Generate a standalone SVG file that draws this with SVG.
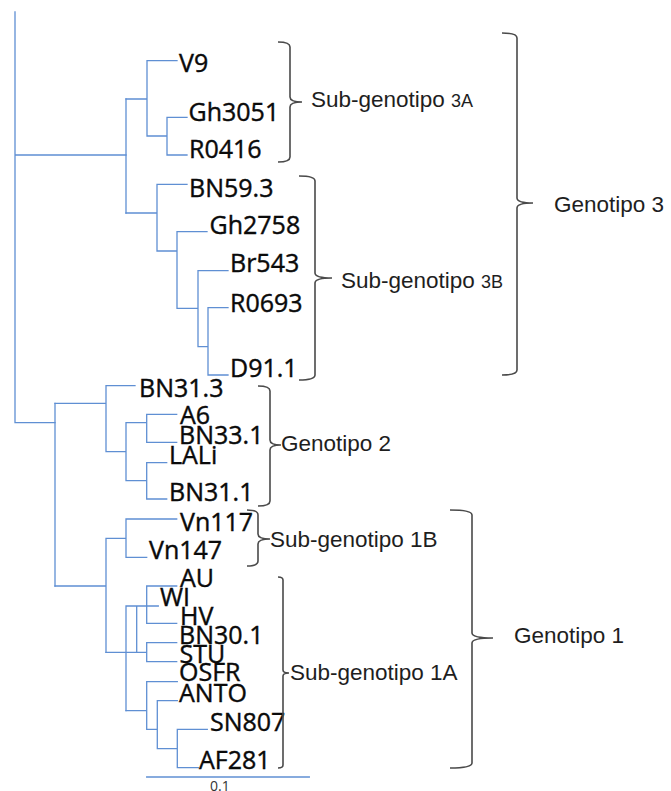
<svg xmlns="http://www.w3.org/2000/svg" width="671" height="791" viewBox="0 0 671 791">
  <style>
    .br { fill: none; stroke: #5f8fd3; stroke-width: 1.3; stroke-linecap: square; }
    .brace { fill: none; stroke: #4a4a4a; stroke-width: 1.6; }
    .taxon { font-family: "Open Sans", "Noto Sans", sans-serif; font-size: 25px; font-weight: 500; fill: #0a0a0a; stroke: #0a0a0a; stroke-width: 0.4; }
    .group { font-family: "Liberation Sans", Arial, sans-serif; font-size: 22.5px; fill: #1e1e1e; }
    .small { font-size: 18px; }
    .scale { font-family: "Open Sans", sans-serif; font-size: 14px; fill: #333; }
  </style>

  <!-- tree branches -->
  <g id="connectors" class="br">
    <!-- root -->
    <path d="M15,12 V422.7 M15,155 H126 M15,422.7 H55"/>
    <!-- genotype 3 -->
    <path d="M126,99 V213"/>
    <path d="M126,99 H147 M177,60.7 H147 V136 H167 M187,117.3 H167 V155 H187"/>
    <path d="M126,213 H157 M187,184.3 H157 V251 H177 M207,231.7 H177 V308.3 H198 M228,270.7 H198 V346.7 H208 M228,307.7 H208 V375 H228"/>
    <!-- genotypes 1 and 2 -->
    <path d="M55,403.3 V586"/>
    <path d="M55,403.3 H106 M135,385.7 H106 V451.7 H126 M126,422.7 V480.7 M126,422.7 H146.7 M176.7,414.3 H146.7 V442.3 H176.7 M126,480.7 H146.7 M166.7,462.7 H146.7 V499 H166.7"/>
    <path d="M55,586 H106 M106,538.3 V652.3 M106,538.3 H126 M176.7,519 H126 V557.3 H146.7"/>
    <path d="M106,652.3 H146.7 M126,606 V710.7 M126,606 H158.3 M136.7,606 V652.3 M176.7,586 H146.7 V623.3 H176.7 M176.7,642.7 H146.7 V661.7 H176.7"/>
    <path d="M126,710.7 H146.7 M177.3,681.7 H146.7 V729.3 H157.3 M177.3,700.7 H157.3 V748.7 H177.3 M207.3,729.3 H177.3 V767.7 H198.3"/>
    <!-- scale bar -->
    <path d="M146.7,777 H309.3"/>
  </g>
  <text class="scale" x="210" y="791">0.1</text>

  <!-- taxa -->
  <g id="V9"><text class="taxon" x="179" y="72">V9</text></g>
  <g id="Gh3051"><text class="taxon" x="188.5" y="121">Gh3051</text></g>
  <g id="R0416"><text class="taxon" x="189" y="158">R0416</text></g>
  <g id="BN59_3"><text class="taxon" x="189" y="197">BN59.3</text></g>
  <g id="Gh2758"><text class="taxon" x="209.5" y="234">Gh2758</text></g>
  <g id="Br543"><text class="taxon" x="230" y="271.5">Br543</text></g>
  <g id="R0693"><text class="taxon" x="230" y="311.5">R0693</text></g>
  <g id="D91_1"><text class="taxon" x="230" y="376.5">D91.1</text></g>
  <g id="BN31_3"><text class="taxon" x="139" y="396.5">BN31.3</text></g>
  <g id="A6"><text class="taxon" x="180" y="424">A6</text></g>
  <g id="BN33_1"><text class="taxon" x="179" y="444">BN33.1</text></g>
  <g id="LALi"><text class="taxon" x="169" y="464">LALi</text></g>
  <g id="BN31_1"><text class="taxon" x="169" y="501">BN31.1</text></g>
  <g id="Vn117"><text class="taxon" x="180" y="530.5">Vn117</text></g>
  <g id="Vn147"><text class="taxon" x="149" y="559">Vn147</text></g>
  <g id="AU"><text class="taxon" x="180" y="586.5">AU</text></g>
  <g id="WI"><text class="taxon" x="160" y="606">WI</text></g>
  <g id="HV"><text class="taxon" x="180" y="625">HV</text></g>
  <g id="BN30_1"><text class="taxon" x="179" y="644">BN30.1</text></g>
  <g id="STU"><text class="taxon" x="179.5" y="662.5">STU</text></g>
  <g id="OSFR"><text class="taxon" x="179" y="681">OSFR</text></g>
  <g id="ANTO"><text class="taxon" x="179" y="701.5">ANTO</text></g>
  <g id="SN807"><text class="taxon" x="210" y="730.5">SN807</text></g>
  <g id="AF281"><text class="taxon" x="199" y="769">AF281</text></g>

  <!-- group braces and labels -->
  <g id="sub3A">
    <path class="brace" d="M278,42 Q290,42 290,47 V97 Q290,102 302,102 M302,102 Q290,102 290,107 V157 Q290,162 278,162"/>
    <text class="group" x="311" y="106.5">Sub-genotipo <tspan class="small">3A</tspan></text>
  </g>
  <g id="sub3B">
    <path class="brace" d="M299,176 Q315,176 315,181 V273 Q315,278 332,278 M332,278 Q315,278 315,283 V375 Q315,380 299,380"/>
    <text class="group" x="341" y="288">Sub-genotipo <tspan class="small">3B</tspan></text>
  </g>
  <g id="geno3">
    <path class="brace" d="M502,33 Q517,33 517,38 V198 Q517,203 533,203 M533,203 Q517,203 517,208 V370 Q517,375 502,375"/>
    <text class="group" x="554" y="212">Genotipo 3</text>
  </g>
  <g id="geno2">
    <path class="brace" d="M258,386 Q270,386 270,391 V440 Q270,445 281,445 M281,445 Q270,445 270,450 V501 Q270,506 258,506"/>
    <text class="group" x="281" y="451">Genotipo 2</text>
  </g>
  <g id="sub1B">
    <path class="brace" d="M247,510 Q258,510 258,515 V534 Q258,539 270,539 M270,539 Q258,539 258,544 V561 Q258,566 247,566"/>
    <text class="group" x="270" y="546.5">Sub-genotipo 1B</text>
  </g>
  <g id="sub1A">
    <path class="brace" d="M278,577 Q283,577 283,580 V670 Q283,673 289,673 M289,673 Q283,673 283,676 V765 Q283,768 278,768"/>
    <text class="group" x="290" y="680">Sub-genotipo 1A</text>
  </g>
  <g id="geno1">
    <path class="brace" d="M450,510 Q472,510 472,515 V633 Q472,638 493,638 M493,638 Q472,638 472,643 V763 Q472,768 450,768"/>
    <text class="group" x="514" y="643">Genotipo 1</text>
  </g>
</svg>
